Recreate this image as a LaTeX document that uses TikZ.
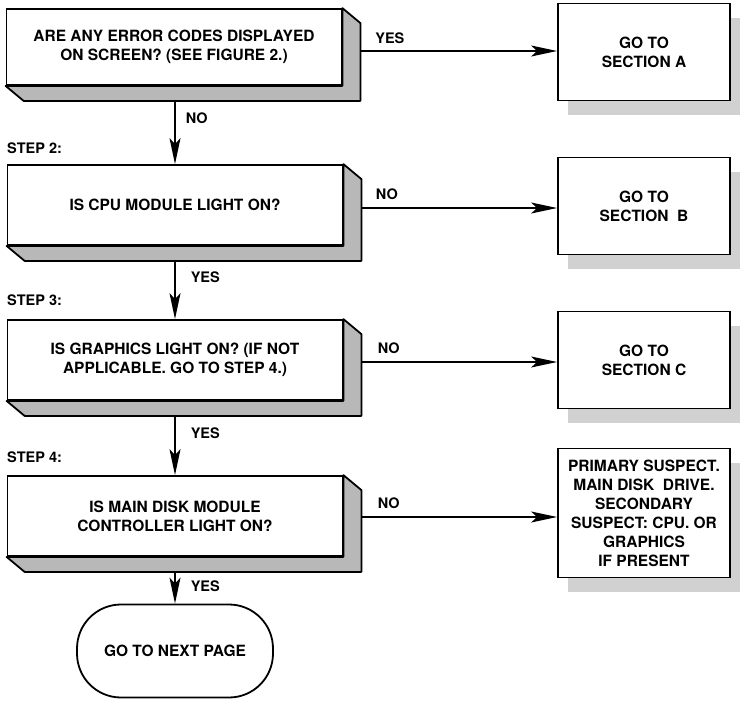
\documentclass[tikz,border=0pt]{standalone}
\usepackage{fontspec}
\setmainfont{TeX Gyre Heros}
\usetikzlibrary{positioning,calc,arrows.meta,shadows}
\newcommand{\boxfont}{\fontsize{15.5}{19}\selectfont\bfseries}
\newcommand{\lblfont}{\fontsize{14.5}{16}\selectfont\bfseries}
\tikzset{
    question/.style={rectangle, draw, line width=1.8pt, minimum width=335pt, minimum height=80pt, align=center, font=\boxfont, fill=white},
    slab/.style={draw, line width=1.8pt, fill=black!28, line join=round},
    target/.style={rectangle, draw, line width=1.8pt, minimum width=172pt, minimum height=97pt, align=center, font=\boxfont, fill=white,
        drop shadow={shadow xshift=10pt, shadow yshift=-14pt, fill=black!18, opacity=1}},
    terminal/.style={rectangle, draw, line width=1.8pt, rounded corners=44pt, minimum width=196pt, minimum height=93pt, font=\boxfont},
    lbl/.style={font=\lblfont, inner sep=0pt},
    flow/.style={line width=1.5pt, -{Stealth[length=26pt, width=11pt, inset=6pt]}}
}

\begin{document}
\begin{tikzpicture}[x=1pt, y=-1pt]
    \useasboundingbox (0,0) rectangle (740,702);

    % question boxes with their raised edge
    \node[question, minimum height=76pt] (b1) at (174,47) {ARE ANY ERROR CODES DISPLAYED\\ON SCREEN? (SEE FIGURE 2.)};
    \node[question] (b2) at (175,205) {IS CPU MODULE LIGHT ON?};
    \node[question] (b3) at (175,360) {IS GRAPHICS LIGHT ON? (IF NOT\\APPLICABLE. GO TO STEP 4.)};
    \node[question] (b4) at (175,516) {IS MAIN DISK MODULE\\CONTROLLER LIGHT ON?};
    \foreach \b in {b1,b2,b3,b4}
        \draw[slab] (\b.south west) -- ++(18,15) -| ($(\b.north east)+(18,15)$) -- (\b.north east) -- (\b.south east) -- cycle;

    % outcome boxes
    \node[target] (sA) at (644,52) {GO TO\\SECTION A};
    \node[target] (sB) at (644,206) {GO TO\\SECTION\ \ B};
    \node[target] (sC) at (644,360) {GO TO\\SECTION C};
    \node[target, minimum height=129pt] (sD) at (644,513) {PRIMARY SUSPECT.\\MAIN DISK\ \ DRIVE.\\SECONDARY\\SUSPECT: CPU. OR\\GRAPHICS\\IF PRESENT};
    \node[terminal] (end) at (175,651) {GO TO NEXT PAGE};

    % step labels
    \node[lbl, anchor=west] (st2) at (7,148) {STEP 2:};
    \node[lbl, anchor=west] (st3) at (7,300) {STEP 3:};
    \node[lbl, anchor=west] (st4) at (7,457) {STEP 4:};

    % side exits
    \coordinate (r1) at ($(b1.east)+(18,4)$);
    \coordinate (r2) at ($(b2.east)+(18,3)$);
    \coordinate (r3) at ($(b3.east)+(18,2)$);
    \coordinate (r4) at ($(b4.east)+(18,1)$);
    \draw[flow] (r1) -- (r1 -| sA.west) node[pos=0.15, above=7pt, lbl] {YES};
    \draw[flow] (r2) -- (r2 -| sB.west) node[pos=0.13, above=8pt, lbl] {NO};
    \draw[flow] (r3) -- (r3 -| sC.west) node[pos=0.14, above=8pt, lbl] {NO};
    \draw[flow] (r4) -- (r4 -| sD.west) node[pos=0.14, above=8pt, lbl] {NO};

    % downward flow
    \coordinate (d1) at ($(b1.south)+(1,15)$);
    \coordinate (d2) at ($(b2.south)+(0,15)$);
    \coordinate (d3) at ($(b3.south)+(0,15)$);
    \coordinate (d4) at ($(b4.south)+(0,15)$);
    \draw[flow] (d1) -- (d1 |- b2.north) node[pos=0.28, right=10pt, lbl] {NO};
    \draw[flow] (d2) -- (d2 |- b3.north) node[pos=0.28, right=15pt, lbl] {YES};
    \draw[flow] (d3) -- (d3 |- b4.north) node[pos=0.3, right=15pt, lbl] {YES};
    \draw[flow] (d4) -- (end) node[pos=0.45, right=15pt, lbl] {YES};

\end{tikzpicture}
\end{document}
